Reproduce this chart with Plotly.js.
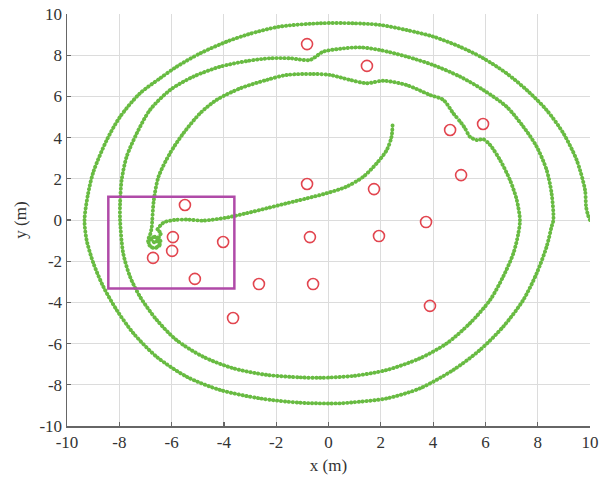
<!DOCTYPE html>
<html>
<head>
<meta charset="utf-8">
<script src="https://cdn.plot.ly/plotly-3.0.1.min.js"></script>
<style>
html,body{margin:0;padding:0;background:#fff;}
#chart{width:600px;height:490px;}
#chart .scatterlayer .js-line{stroke-linecap:round;}
</style>
</head>
<body>
<div id="chart"></div>
<script>
// Green robot trajectory, from (10,0) spiralling inward to the hook end
const pathX = [10.0, 9.92, 9.85, 9.81, 9.49, 8.98, 8.34, 7.58, 6.81, 5.92, 5.03, 4.01, 2.99, 1.97, 0.95, -0.33, -1.9, -3.05, -3.89, -4.91, -5.81, -6.44, -7.21, -7.97, -8.48, -8.99, -9.19, -9.33, -9.25, -8.99, -8.61, -8.10, -7.46, -6.57, -5.42, -4.15, -2.62, -1.09, 0.44, 0.95, 2.23, 3.50, 4.77, 5.79, 6.68, 7.45, 7.96, 8.34, 8.53, 8.60, 8.53, 8.34, 7.96, 7.45, 6.81, 5.92, 5.03, 4.01, 2.99, 1.97, 1.20, 0.44, -0.20, -0.71, -1.47, -2.24, -3.1, -4.15, -5.17, -6.06, -6.83, -7.33, -7.72, -7.91, -7.97, -7.97, -7.85, -7.59, -7.21, -6.57, -5.81, -4.79, -3.64, -2.36, -1.09, -0.33, 0.95, 2.23, 3.50, 4.52, 5.41, 6.18, 6.68, 7.07, 7.26, 7.32, 7.20, 6.94, 6.56, 6.18, 5.92, 5.67, 5.41, 5.22, 5.09, 4.77, 4.39, 3.88, 2.99, 2.10, 1.46, 0.82, 0.06, -0.58, -1.60, -2.36, -3.38, -4.28, -4.91, -5.55, -6.06, -6.5, -6.68, -6.74, -6.76, -6.82, -6.9, -6.8, -6.6, -6.45, -6.55, -6.8, -6.88, -6.72, -6.52, -6.42, -6.6, -6.78, -6.62, -6.45, -6.4, -6.55, -6.45, -6.3, -5.9, -5.4, -4.79, -3.89, -3.13, -2.36, -1.60, -0.83, -0.07, 0.69, 1.33, 1.84, 2.23, 2.41, 2.45];
const pathY = [0.0, 0.25, 0.65, 1.46, 2.91, 4.21, 5.34, 6.31, 7.12, 7.85, 8.41, 8.90, 9.22, 9.47, 9.55, 9.55, 9.38, 9.02, 8.66, 8.09, 7.44, 6.88, 6.15, 5.01, 3.88, 2.34, 1.30, 0.0, -0.97, -2.10, -3.24, -4.37, -5.50, -6.64, -7.61, -8.25, -8.66, -8.87, -8.90, -8.85, -8.66, -8.17, -7.28, -6.31, -5.18, -3.88, -2.59, -1.30, -0.33, 0.0, 1.30, 2.43, 3.56, 4.53, 5.50, 6.31, 6.96, 7.52, 7.93, 8.25, 8.38, 8.31, 8.17, 7.77, 7.85, 7.85, 7.72, 7.44, 6.96, 6.31, 5.34, 4.21, 3.07, 1.94, 0.81, 0.0, -1.62, -2.75, -3.72, -4.85, -5.83, -6.64, -7.20, -7.52, -7.64, -7.66, -7.57, -7.28, -6.71, -5.99, -5.01, -3.88, -2.75, -1.62, -0.65, 0.0, 0.97, 1.94, 2.91, 3.64, 3.92, 3.88, 4.04, 4.45, 4.69, 5.18, 5.83, 6.07, 6.55, 6.76, 6.64, 6.80, 7.04, 7.09, 7.04, 6.80, 6.39, 5.83, 5.18, 4.21, 3.24, 2.10, 0.97, 0.0, -0.35, -0.7, -1.0, -1.3, -1.35, -1.2, -0.9, -0.85, -1.15, -1.35, -1.28, -1.05, -0.8, -0.95, -1.1, -0.75, -0.6, -0.5, -0.3, -0.12, 0.0, 0.02, -0.03, 0.12, 0.33, 0.57, 0.81, 1.05, 1.30, 1.62, 2.10, 2.75, 3.40, 4.04, 4.61];

// Red open circles (anchor / landmark positions)
const markX = [-0.82, 1.47, 4.65, 5.91, 5.07, -0.82, 1.74, -5.49, 3.73, -5.95, -4.03, -0.71, 1.93, -5.98, -6.71, -5.11, -2.66, -0.59, 3.88, -3.65];
const markY = [8.54, 7.48, 4.37, 4.66, 2.18, 1.75, 1.50, 0.73, -0.10, -0.83, -1.07, -0.83, -0.78, -1.50, -1.84, -2.86, -3.11, -3.11, -4.17, -4.76];

// Magenta highlight box corners
const boxX = [-8.42, -3.60];
const boxY = [-3.32, 1.13];

// Axis ticks
const tickVals = [-10, -8, -6, -4, -2, 0, 2, 4, 6, 8, 10];
const tickText = ['-10', '-8', '-6', '-4', '-2', '0', '2', '4', '6', '8', '10'];

const font = 'Liberation Serif, Times New Roman, serif';

const traces = [
  {
    x: pathX, y: pathY, type: 'scatter', mode: 'lines',
    line: {color: '#68bb42', width: 3.9, dash: '0.3px,3.6px', shape: 'spline', smoothing: 0.8},
    hoverinfo: 'skip', showlegend: false
  },
  {
    x: markX, y: markY, type: 'scatter', mode: 'markers',
    marker: {symbol: 'circle-open', size: 11, color: '#e2454f', line: {width: 1.6, color: '#e2454f'}},
    showlegend: false
  }
];

const axisCommon = {
  range: [-10, 10], tickvals: tickVals, ticktext: tickText,
  showgrid: true, gridcolor: '#dcdcdc', gridwidth: 1,
  zeroline: false, showline: true, linecolor: '#666', linewidth: 1.5,
  ticks: 'inside', ticklen: 4, tickcolor: '#666', tickwidth: 1.2,
  tickfont: {family: font, size: 17, color: '#333'},
  fixedrange: true
};

const layout = {
  width: 600, height: 490,
  margin: {l: 67, r: 10, t: 14, b: 64},
  paper_bgcolor: '#fff', plot_bgcolor: '#fff',
  font: {family: font, color: '#333'},
  xaxis: Object.assign({}, axisCommon, {title: {text: 'x (m)', font: {family: font, size: 17, color: '#333'}, standoff: 8}}),
  yaxis: Object.assign({}, axisCommon, {title: {text: 'y (m)', font: {family: font, size: 17, color: '#333'}, standoff: 8}}),
  shapes: [{
    type: 'rect', xref: 'x', yref: 'y',
    x0: boxX[0], x1: boxX[1], y0: boxY[0], y1: boxY[1],
    line: {color: '#b04aa8', width: 2.5}
  }],
  showlegend: false
};

Plotly.newPlot('chart', traces, layout, {displayModeBar: false, staticPlot: true});
</script>
</body>
</html>
